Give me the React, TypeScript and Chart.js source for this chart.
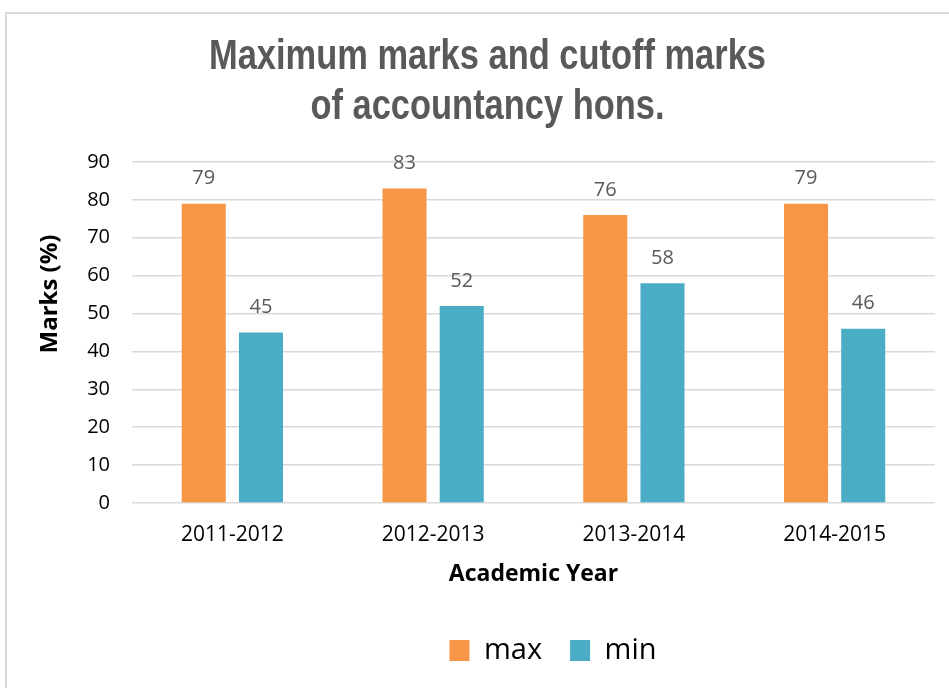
import React, { useEffect, useRef } from "react";
import { Chart, registerables } from "chart.js";

Chart.register(...registerables);

const categories = ["2011-2012", "2012-2013", "2013-2014", "2014-2015"];
const maxMarks = [79, 83, 76, 79];
const minMarks = [45, 52, 58, 46];
const seriesNames = ["max", "min"];
const titleLines = ["Maximum marks and cutoff marks", "of accountancy hons."];
const yTitle = "Marks (%)";
const xTitle = "Academic Year";
const yMin = 0;
const yMax = 90;
const yStep = 10;

const FONT = "'Open Sans', 'Noto Sans', sans-serif";
const TITLE_FONT = "'Liberation Sans', Arial, sans-serif";

const chartTitle = {
  id: "chartTitle",
  afterDraw(chart: any) {
    const { ctx, chartArea } = chart;
    ctx.save();
    ctx.font = `bold 42px ${TITLE_FONT}`;
    ctx.fillStyle = "#595959";
    ctx.textAlign = "center";
    ctx.textBaseline = "middle";
    const cx = chart.width / 2 + 13;
    titleLines.forEach((line, i) => {
      ctx.save();
      ctx.translate(cx, chartArea.top - 105 + i * 50);
      ctx.scale(0.82, 1);
      ctx.fillText(line, 0, 0);
      ctx.restore();
    });
    ctx.restore();
  },
};

const valueLabels = {
  id: "valueLabels",
  afterDatasetsDraw(chart: any) {
    const ctx = chart.ctx;
    ctx.save();
    ctx.font = `20px ${FONT}`;
    ctx.fillStyle = "#595959";
    ctx.textAlign = "center";
    ctx.textBaseline = "middle";
    chart.data.datasets.forEach((ds: any, i: number) => {
      const meta = chart.getDatasetMeta(i);
      meta.data.forEach((bar: any, j: number) => {
        ctx.fillText(String(ds.data[j]), bar.x, bar.y - 25);
      });
    });
    ctx.restore();
  },
};

const yAxisTitle = {
  id: "yAxisTitle",
  afterDraw(chart: any) {
    const { ctx, chartArea } = chart;
    ctx.save();
    ctx.font = `bold 24px ${FONT}`;
    ctx.fillStyle = "#000";
    ctx.textAlign = "center";
    ctx.textBaseline = "middle";
    ctx.translate(chartArea.left - 82, chartArea.top + 132);
    ctx.rotate(-Math.PI / 2);
    ctx.fillText(yTitle, 0, 0);
    ctx.restore();
  },
};

const legendShift = {
  id: "legendShift",
  afterLayout(chart: any) {
    const lg = chart.legend;
    if (lg) {
      lg.left += 83;
      lg.right += 83;
    }
  },
};

export default function App() {
  const ref = useRef<HTMLCanvasElement | null>(null);

  useEffect(() => {
    if (!ref.current) return;
    const chart = new Chart(ref.current, {
      type: "bar",
      data: {
        labels: categories,
        datasets: [
          {
            label: seriesNames[0],
            data: maxMarks,
            backgroundColor: "#F79646",
            categoryPercentage: 0.57,
            barPercentage: 0.77,
          },
          {
            label: seriesNames[1],
            data: minMarks,
            backgroundColor: "#4BACC6",
            categoryPercentage: 0.57,
            barPercentage: 0.77,
          },
        ],
      },
      options: {
        animation: false,
        responsive: false,
        maintainAspectRatio: false,
        devicePixelRatio: 1,
        layout: { padding: { top: 162, left: 5, right: 14, bottom: 13 } },
        plugins: {
          title: { display: false },
          legend: {
            position: "bottom",
            labels: {
              boxWidth: 20,
              boxHeight: 21,
              color: "#000",
              font: { family: FONT, size: 29 },
              padding: 28,
            },
          },
          tooltip: { enabled: false },
        },
        scales: {
          x: {
            grid: { display: false, drawTicks: false },
            border: { display: false },
            ticks: { color: "#000", font: { family: FONT, size: 21 }, padding: 19 },
            title: {
              display: true,
              text: xTitle,
              color: "#000",
              font: { family: FONT, size: 23, weight: "bold" },
              padding: { top: 0, bottom: 20 },
            },
            afterFit: (s: any) => {
              s.height = 105;
            },
          },
          y: {
            min: yMin,
            max: yMax,
            ticks: { stepSize: yStep, color: "#000", font: { family: FONT, size: 20 }, padding: 22 },
            grid: { color: "#d9d9d9", lineWidth: 1.5, drawTicks: false },
            border: { display: false },
            afterFit: (s: any) => {
              s.width = 127;
            },
          },
        },
      },
      plugins: [chartTitle, valueLabels, yAxisTitle, legendShift],
    });
    return () => chart.destroy();
  }, []);

  return (
    <div
      style={{
        position: "fixed",
        left: 0,
        top: 0,
        width: 949,
        height: 688,
        overflow: "hidden",
        background: "#fff",
      }}
    >
      <div
        style={{
          position: "absolute",
          left: 5,
          top: 12,
          width: 980,
          height: 720,
          border: "2px solid #d9d9d9",
        }}
      />
      <canvas
        ref={ref}
        width={949}
        height={688}
        style={{ position: "absolute", left: 0, top: 0, width: 949, height: 688 }}
      />
    </div>
  );
}
